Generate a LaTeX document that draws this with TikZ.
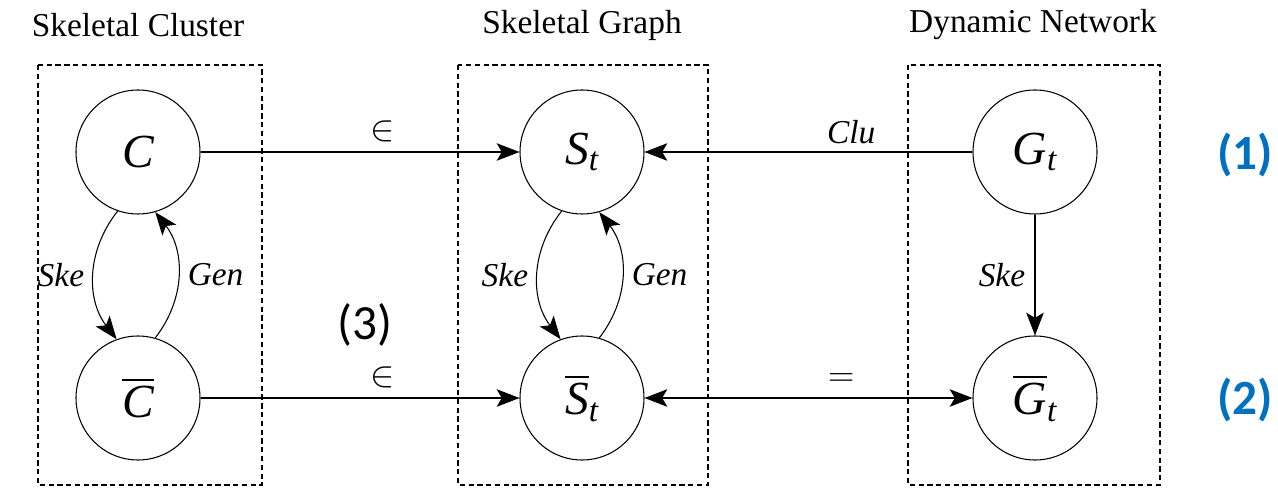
\documentclass[tikz,border=0pt]{standalone}
\usepackage{amsmath}
\usepackage{fontspec}
\setmainfont{Liberation Serif}
\newfontfamily\calibri{Carlito}
\usetikzlibrary{arrows.meta}
\definecolor{numblue}{RGB}{0,112,192}
\begin{document}
\begin{tikzpicture}[
  >={Stealth[length=13pt,width=10pt,inset=3pt]},
  state/.style={draw,circle,line width=0.6pt,minimum size=2.48cm,inner sep=0pt,font=\fontsize{27}{30}\selectfont},
  frame/.style={draw,line width=0.6pt,dash pattern=on 3pt off 2pt},
  title/.style={font=\fontsize{19}{22}\selectfont},
  lab/.style={font=\fontsize{19}{22}\selectfont\itshape},
  rel/.style={font=\fontsize{22}{24}\selectfont},
  num/.style={font=\calibri\bfseries\fontsize{28}{32}\selectfont,text=numblue},
  link/.style={->,line width=0.6pt}
]
  \useasboundingbox (0,0) rectangle (25.56,-9.82);
  % dashed frames
  \draw[frame] (0.76,-1.3) rectangle (5.24,-9.7);
  \draw[frame] (9.16,-1.3) rectangle (14.16,-9.7);
  \draw[frame] (18.16,-1.3) rectangle (23.2,-9.7);

  \node[title] (T1) at (2.76,-0.5) {Skeletal Cluster};
  \node[title] (T2) at (11.64,-0.5) {Skeletal Graph};
  \node[title] (T3) at (20.66,-0.5) {Dynamic Network};

  \node[state] (C)  at (2.76,-3.04) {$\textit{C}$};
  \node[state] (Cb) at (2.76,-7.96) {$\overline{\textit{C}}$};
  \node[state] (S)  at (11.64,-3.04) {$\textit{S}_{\textit{t}}$};
  \node[state] (Sb) at (11.64,-7.96) {$\overline{\textit{S}}_{\textit{t}}$};
  \node[state] (G)  at (20.7,-3.04) {$\textit{G}_{\textit{t}}$};
  \node[state] (Gb) at (20.7,-7.96) {$\overline{\textit{G}}_{\textit{t}}$};

  \draw[link] (C) -- node[pos=0.57,above=2pt,rel] {$\in$} (S);
  \draw[link] (Cb) -- node[pos=0.57,above=2pt,rel] {$\in$} (Sb);
  \draw[link] (G) -- node[pos=0.37,above=1pt,lab] {Clu} (S);
  \draw[link,<->] (Sb) -- node[pos=0.6,above=3pt,rel] {$=$} (Gb);
  \draw[link] (G) -- node[left=2pt,lab] {Ske} (Gb);

  \draw[link] (C.-109) to[bend right=38] node[left=2pt,lab] {Ske} (Cb.110);
  \draw[link] (Cb.74) to[bend right=38] node[right=2pt,lab] {Gen} (C.-74);
  \draw[link] (S.-109) to[bend right=38] node[left=2pt,lab] {Ske} (Sb.110);
  \draw[link] (Sb.74) to[bend right=38] node[right=2pt,lab] {Gen} (S.-74);

  \node[font=\calibri\fontsize{28}{32}\selectfont] (N3) at (7.3,-6.5) {(3)};
  \node[num] (N1) at (24.9,-3.1) {(1)};
  \node[num] (N2) at (24.9,-8.0) {(2)};
\end{tikzpicture}
\end{document}
